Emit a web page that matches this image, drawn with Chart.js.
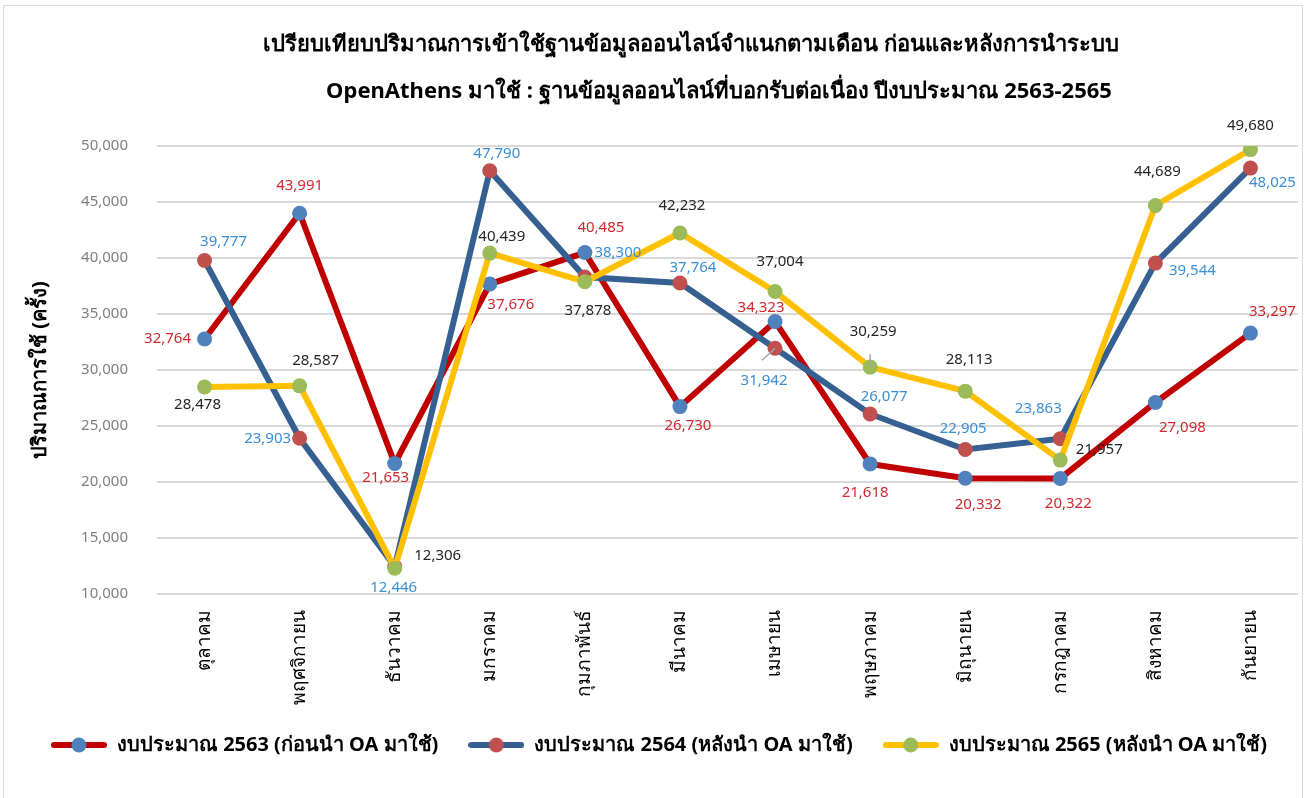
<!DOCTYPE html>
<html>
<head>
<meta charset="utf-8">
<script src="https://cdn.jsdelivr.net/npm/chart.js@4.4.0/dist/chart.umd.min.js"></script>
<style>
  html, body { margin: 0; padding: 0; background: #fff; }
  #wrap { position: relative; width: 1311px; height: 798px; overflow: hidden; }
  #frame { position: absolute; left: 3px; top: 5px; width: 1298px; height: 800px; border: 1.5px solid #d9d9d9; pointer-events: none; }
</style>
</head>
<body>
<div id="wrap">
  <canvas id="myChart" width="1311" height="798"></canvas>
  <div id="frame"></div>
</div>
<script>
const months = ['ตุลาคม', 'พฤศจิกายน', 'ธันวาคม', 'มกราคม', 'กุมภาพันธ์', 'มีนาคม',
  'เมษายน', 'พฤษภาคม', 'มิถุนายน', 'กรกฎาคม', 'สิงหาคม', 'กันยายน'];

const budget2563 = [32764, 43991, 21653, 37676, 40485, 26730, 34323, 21618, 20332, 20322, 27098, 33297];
const budget2564 = [39777, 23903, 12446, 47790, 38300, 37764, 31942, 26077, 22905, 23863, 39544, 48025];
const budget2565 = [28478, 28587, 12306, 40439, 37878, 42232, 37004, 30259, 28113, 21957, 44689, 49680];

const seriesNames = [
  'งบประมาณ 2563 (ก่อนนำ OA มาใช้)',
  'งบประมาณ 2564 (หลังนำ OA มาใช้)',
  'งบประมาณ 2565 (หลังนำ OA มาใช้)'
];

const titleLine1 = 'เปรียบเทียบปริมาณการเข้าใช้ฐานข้อมูลออนไลน์จำแนกตามเดือน ก่อนและหลังการนำระบบ';
const titleLine2 = 'OpenAthens มาใช้ : ฐานข้อมูลออนไลน์ที่บอกรับต่อเนื่อง ปีงบประมาณ 2563-2565';
const yTitle = 'ปริมาณการใช้ (ครั้ง)';

const yMin = 10000;
const yMax = 50000;
const yStep = 5000;

// where each value label sits, relative to its point (px)
const offsets2563 = [[-37, 0], [0, -28], [-9, 14], [21, 21], [16, -25], [8, 19],
  [-14, -14], [-5, 29], [13, 26], [8, 25], [27, 25], [22, -21]];
const offsets2564 = [[19, -19], [-32, 0], [-1, 21], [7, -17], [33, -24], [13, -15],
  [-11, 32], [14, -17], [-2, -21], [-22, -30], [37, 8], [22, 15]];
const offsets2565 = [[-7, 18], [16, -25], [43, -12], [12, -16], [3, 29], [2, -27],
  [5, -30], [3, -35], [4, -31], [39, -10], [2, -34], [0, -24]];

// little grey leader lines: [dataset, point, start dx, start dy]
const leaders = [[2, 7, 0, -13], [1, 6, -13, 12]];

const fontFamily = 'Tahoma, "Noto Sans", "DejaVu Sans", sans-serif';
Chart.defaults.font.family = fontFamily;

function legendMarker(lineColor, dotColor) {
  const c = document.createElement('canvas');
  c.width = 56;
  c.height = 16;
  const g = c.getContext('2d');
  g.strokeStyle = lineColor;
  g.lineWidth = 6;
  g.lineCap = 'round';
  g.beginPath();
  g.moveTo(3, 8);
  g.lineTo(53, 8);
  g.stroke();
  g.fillStyle = dotColor;
  g.beginPath();
  g.arc(28, 8, 7.5, 0, Math.PI * 2);
  g.fill();
  return c;
}

function series(label, values, lineColor, dotColor, labelColor, offsets, order) {
  return {
    label: label,
    data: values,
    borderColor: lineColor,
    backgroundColor: dotColor,
    borderWidth: 6,
    pointRadius: 7.5,
    pointHoverRadius: 7.5,
    pointBackgroundColor: dotColor,
    pointBorderWidth: 0,
    tension: 0,
    order: order,
    labelColor: labelColor,
    labelOffsets: offsets,
    marker: legendMarker(lineColor, dotColor)
  };
}

const pointLabels = {
  id: 'pointLabels',
  afterDatasetsDraw(chart) {
    const ctx = chart.ctx;
    ctx.save();
    ctx.strokeStyle = '#A6A6A6';
    ctx.lineWidth = 1.5;
    leaders.forEach(l => {
      const pt = chart.getDatasetMeta(l[0]).data[l[1]];
      ctx.beginPath();
      ctx.moveTo(pt.x + l[2], pt.y + l[3]);
      ctx.lineTo(pt.x, pt.y);
      ctx.stroke();
    });
    ctx.font = '15px ' + fontFamily;
    ctx.textAlign = 'center';
    ctx.textBaseline = 'middle';
    chart.data.datasets.forEach((ds, i) => {
      const meta = chart.getDatasetMeta(i);
      ctx.fillStyle = ds.labelColor;
      meta.data.forEach((pt, j) => {
        const off = ds.labelOffsets[j];
        ctx.fillText(ds.data[j].toLocaleString('en-US'), pt.x + off[0], pt.y + off[1]);
      });
    });
    ctx.restore();
  }
};

// nudge the title lines and legend sideways, as in the original
const nudge = {
  id: 'nudge',
  afterLayout(chart) {
    chart.boxes.forEach(b => {
      if (!b.options) return;
      let dx = 0;
      if (b.options.text === titleLine1) dx = 42;
      else if (b.options.text === titleLine2) dx = 70;
      else if (b === chart.legend) dx = 10;
      b.left += dx;
      b.right += dx;
    });
  }
};

const ctx = document.getElementById('myChart');

const chart = new Chart(ctx, {
  type: 'line',
  data: {
    labels: months,
    datasets: [
      series(seriesNames[0], budget2563, '#C00000', '#4F81BD', '#D0282E', offsets2563, 3),
      series(seriesNames[1], budget2564, '#376092', '#C0504D', '#3A8ED6', offsets2564, 2),
      series(seriesNames[2], budget2565, '#FFC000', '#9BBB59', '#262626', offsets2565, 1)
    ]
  },
  options: {
    responsive: false,
    animation: false,
    layout: {
      padding: { left: 0, right: 13, top: 0, bottom: 33 }
    },
    plugins: {
      title: {
        display: true,
        text: titleLine1,
        color: '#000',
        font: { size: 22, weight: 'bold', lineHeight: 47 / 22 },
        padding: { top: 21, bottom: 0 }
      },
      subtitle: {
        display: true,
        text: titleLine2,
        color: '#000',
        font: { size: 22, weight: 'bold', lineHeight: 47 / 22 },
        padding: { top: 0, bottom: 31 }
      },
      legend: {
        position: 'bottom',
        labels: {
          usePointStyle: true,
          pointStyleWidth: 56,
          padding: 30,
          color: '#000',
          font: { size: 20, weight: 'bold' },
          generateLabels: chart => chart.data.datasets.map((ds, i) => ({
            text: ds.label,
            pointStyle: ds.marker,
            fontColor: '#000',
            hidden: false,
            lineWidth: 0,
            datasetIndex: i
          }))
        }
      },
      tooltip: { enabled: false }
    },
    scales: {
      x: {
        offset: true,
        grid: { display: false, drawTicks: false },
        border: { display: false },
        ticks: {
          color: '#000',
          font: { size: 19 },
          minRotation: 90,
          maxRotation: 90,
          padding: 16,
          autoSkip: false
        },
        afterFit(scale) { scale.height = 111; }
      },
      y: {
        min: yMin,
        max: yMax,
        grid: { color: '#D9D9D9', lineWidth: 2, drawTicks: false },
        border: { display: false },
        ticks: {
          stepSize: yStep,
          color: '#7F7F7F',
          font: { size: 15 },
          padding: 29,
          callback: v => v.toLocaleString('en-US')
        },
        title: {
          display: true,
          text: yTitle,
          color: '#000',
          font: { size: 20, weight: 'bold' },
          padding: { top: 28, bottom: 0 }
        },
        afterFit(scale) { scale.width = 157; }
      }
    }
  },
  plugins: [pointLabels, nudge]
});
</script>
</body>
</html>
